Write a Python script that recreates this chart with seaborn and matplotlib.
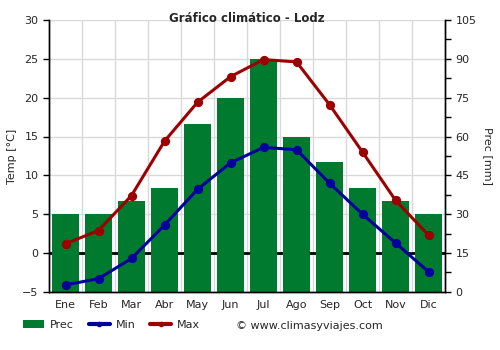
import numpy as np
import pandas as pd
import matplotlib
matplotlib.use("Agg")
import matplotlib.pyplot as plt
from matplotlib.lines import Line2D
from matplotlib.patches import Patch
from matplotlib.ticker import MultipleLocator
import seaborn as sns

months = ["Ene", "Feb", "Mar", "Abr", "May", "Jun", "Jul", "Ago", "Sep", "Oct", "Nov", "Dic"]
prec = [30, 30, 35, 40, 65, 75, 90, 60, 50, 40, 35, 30]
tmin = [-4.1, -3.3, -0.7, 3.6, 8.2, 11.6, 13.6, 13.3, 9.0, 5.0, 1.3, -2.4]
tmax = [1.2, 2.9, 7.4, 14.4, 19.4, 22.7, 24.9, 24.6, 19.1, 13.0, 6.8, 2.3]

df = pd.DataFrame({"mes": months, "prec": prec, "tmin": tmin, "tmax": tmax})

GREEN = "#007a2e"
BLUE = "#00009c"
RED = "#9c0000"
GRID = "#d9d9d9"

sns.set_style("white")
plt.rcParams["font.family"] = ["DejaVu Sans"]

fig = plt.figure(figsize=(5, 3.5), dpi=100)
ax = fig.add_axes([0.098, 0.166, 0.792, 0.777])
ax2 = ax.twinx()

# precipitation bars sit on the back axis together with the grid
ax.set_zorder(2)
ax.patch.set_visible(False)
ax2.set_zorder(1)

sns.barplot(data=df, x="mes", y="prec", ax=ax2, color=GREEN, width=0.8,
            saturation=1, edgecolor="none", linewidth=0, zorder=2)

ax2.set_ylim(0, 105)
ax2.yaxis.set_major_locator(MultipleLocator(15))
ax2.yaxis.set_minor_locator(MultipleLocator(7.5))
ax2.set_ylabel("Prec [mm]", rotation=270, labelpad=12, fontsize=8)
ax2.set_xlim(-0.5, 11.5)

# grid lines on the back axis
for yv in np.arange(0, 106, 15):
    ax2.axhline(yv, color=GRID, lw=1, zorder=0)
for xv in np.arange(0.5, 11, 1):
    ax2.axvline(xv, color=GRID, lw=1, zorder=0)
# freezing line, in temperature units, also behind the bars
ax2.plot([0, 1], [0, 0], transform=ax.get_yaxis_transform(), color="black", lw=2, zorder=1)

sns.pointplot(data=df, x="mes", y="tmin", ax=ax, color=BLUE, markers="o",
              markersize=5, linewidth=2.2)
sns.pointplot(data=df, x="mes", y="tmax", ax=ax, color=RED, markers="o",
              markersize=5, linewidth=2.2)

ax.set_ylim(-5, 30)
ax.set_xlim(-0.5, 11.5)
ax.yaxis.set_major_locator(MultipleLocator(5))
ax.set_ylabel("Temp [°C]", fontsize=8, labelpad=4)
ax.set_xlabel("")
ax2.set_xlabel("")
ax.set_xticks(range(12))
ax.set_xticklabels(months)
ax.set_xticks(np.arange(-0.5, 12, 1), minor=True)
ax.tick_params(axis="x", which="major", length=0, labelsize=8, pad=6)
ax.tick_params(axis="x", which="minor", length=4, width=1, color="black", direction="out")
ax.tick_params(axis="y", which="major", length=4, width=1, color="black", direction="out",
               labelsize=8, left=True)
ax2.tick_params(axis="y", which="both", length=4, width=1, color="black", direction="out",
                labelsize=8, right=True)
ax2.tick_params(axis="x", which="both", length=0, labelbottom=False)

for a in (ax, ax2):
    a.spines["top"].set_visible(False)
    for s in ("left", "right", "bottom"):
        a.spines[s].set_color("black")
        a.spines[s].set_linewidth(1)

ax.set_title("Gráfico climático - Lodz", fontsize=8.5, fontweight="bold", y=1.0, pad=-1.5)

handles = [
    Patch(facecolor=GREEN, edgecolor="none"),
    Line2D([], [], color=BLUE, lw=3, marker="o", markersize=3),
    Line2D([], [], color=RED, lw=3, marker="o", markersize=3),
]
fig.legend(handles, ["Prec", "Min", "Max"], loc="center left", bbox_to_anchor=(0.046, 0.071),
           ncol=3, frameon=False, fontsize=8, handlelength=1.9, columnspacing=1.3,
           handletextpad=0.55, borderaxespad=0, borderpad=0)
fig.text(0.473, 0.069, "© www.climasyviajes.com", fontsize=8, va="center")

fig.savefig("out.png", dpi=100)
